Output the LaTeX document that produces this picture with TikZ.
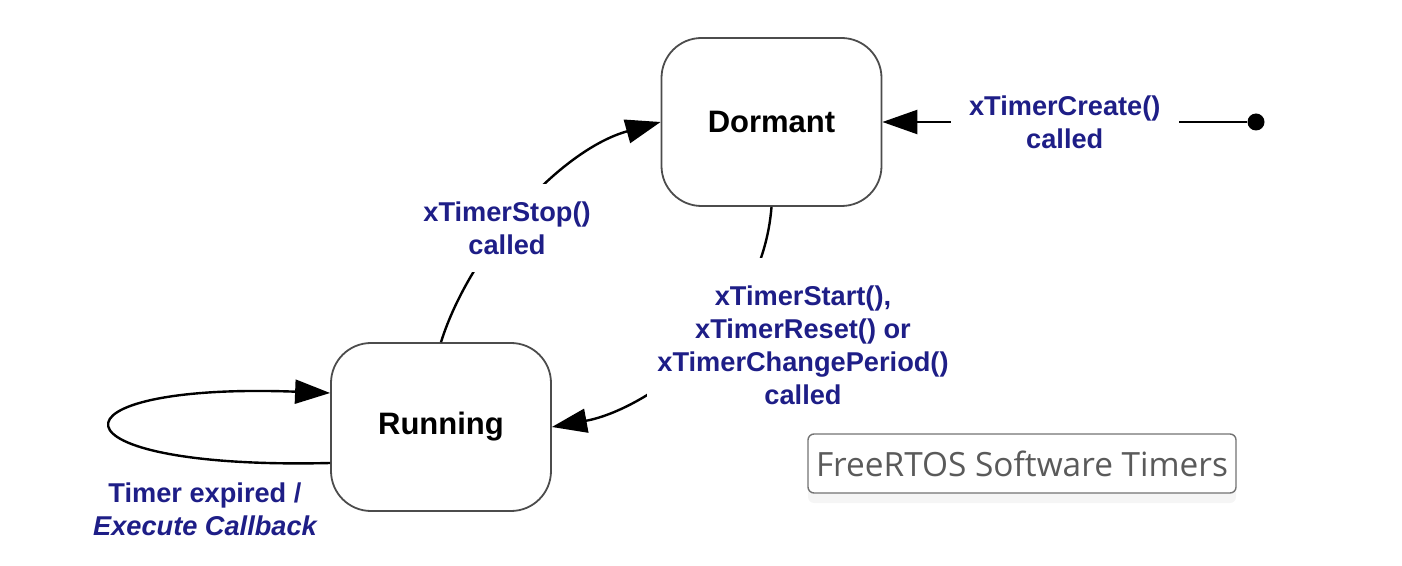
\documentclass[tikz,border=0pt]{standalone}
\usepackage{fontspec}
\setmainfont{Liberation Sans}
\newfontfamily\boxfont{Open Sans}
\usetikzlibrary{arrows.meta,shadows}
\definecolor{lbl}{RGB}{30,30,135}
\definecolor{boxtext}{RGB}{90,90,90}
\begin{document}
\begin{tikzpicture}[x=0.5pt,y=-0.5pt,
  state/.style={draw=black!70, line width=0.9pt, fill=white, rounded corners=20pt,
    minimum width=110pt, minimum height=84pt,
    font=\fontsize{15.5}{18}\selectfont\bfseries, text=black},
  lab/.style={text=lbl, font=\fontsize{13.6}{16.5}\selectfont\bfseries, align=center},
  tr/.style={line width=1.2pt, -{Triangle[length=17.5pt,width=12pt]}}
]
\useasboundingbox (0,0) rectangle (1402,566);
\node[state] (dorm) at (771.5,122) {Dormant};
\node[state] (run) at (441,427) {Running};
\node[circle, fill=black, inner sep=0pt, minimum size=8.5pt] (init) at (1256,122) {};

% create
\draw[tr] (init) -- (dorm.east)
  node[lab, midway, fill=white, inner xsep=9pt, inner ysep=4pt] (lcreate) {xTimerCreate()\\called};

% stop
\draw[tr] (run.north) .. controls (470,250) and (560,150) .. (dorm.west);
\node[lab, fill=white, inner xsep=6pt, inner ysep=9pt] (lstop) at (507,228) {xTimerStop()\\called};

% start
\draw[tr] (dorm.south) .. controls (762,330) and (645,410) .. (run.east);
\node[lab, fill=white, inner xsep=5pt, inner ysep=14pt] (lstart) at (803,345)
  {xTimerStart(),\\xTimerReset() or\\xTimerChangePeriod()\\called};

% self loop
\draw[tr] ([yshift=-18pt]run.west) .. controls (40,470) and (40,382) .. ([yshift=17pt]run.west);
\node[lab] (lloop) at (205,509) {Timer expired /\\\itshape Execute Callback};

% title box
\node[draw=black!55, line width=0.7pt, rounded corners=3pt, fill=white,
  drop shadow={opacity=0.08, shadow xshift=0pt, shadow yshift=-5pt},
  minimum width=214pt, minimum height=29.5pt, inner sep=2pt,
  text=boxtext, font=\boxfont\fontsize{16.7}{19}\selectfont] (title) at (1022,463.5)
  {FreeRTOS Software Timers};
\end{tikzpicture}
\end{document}
